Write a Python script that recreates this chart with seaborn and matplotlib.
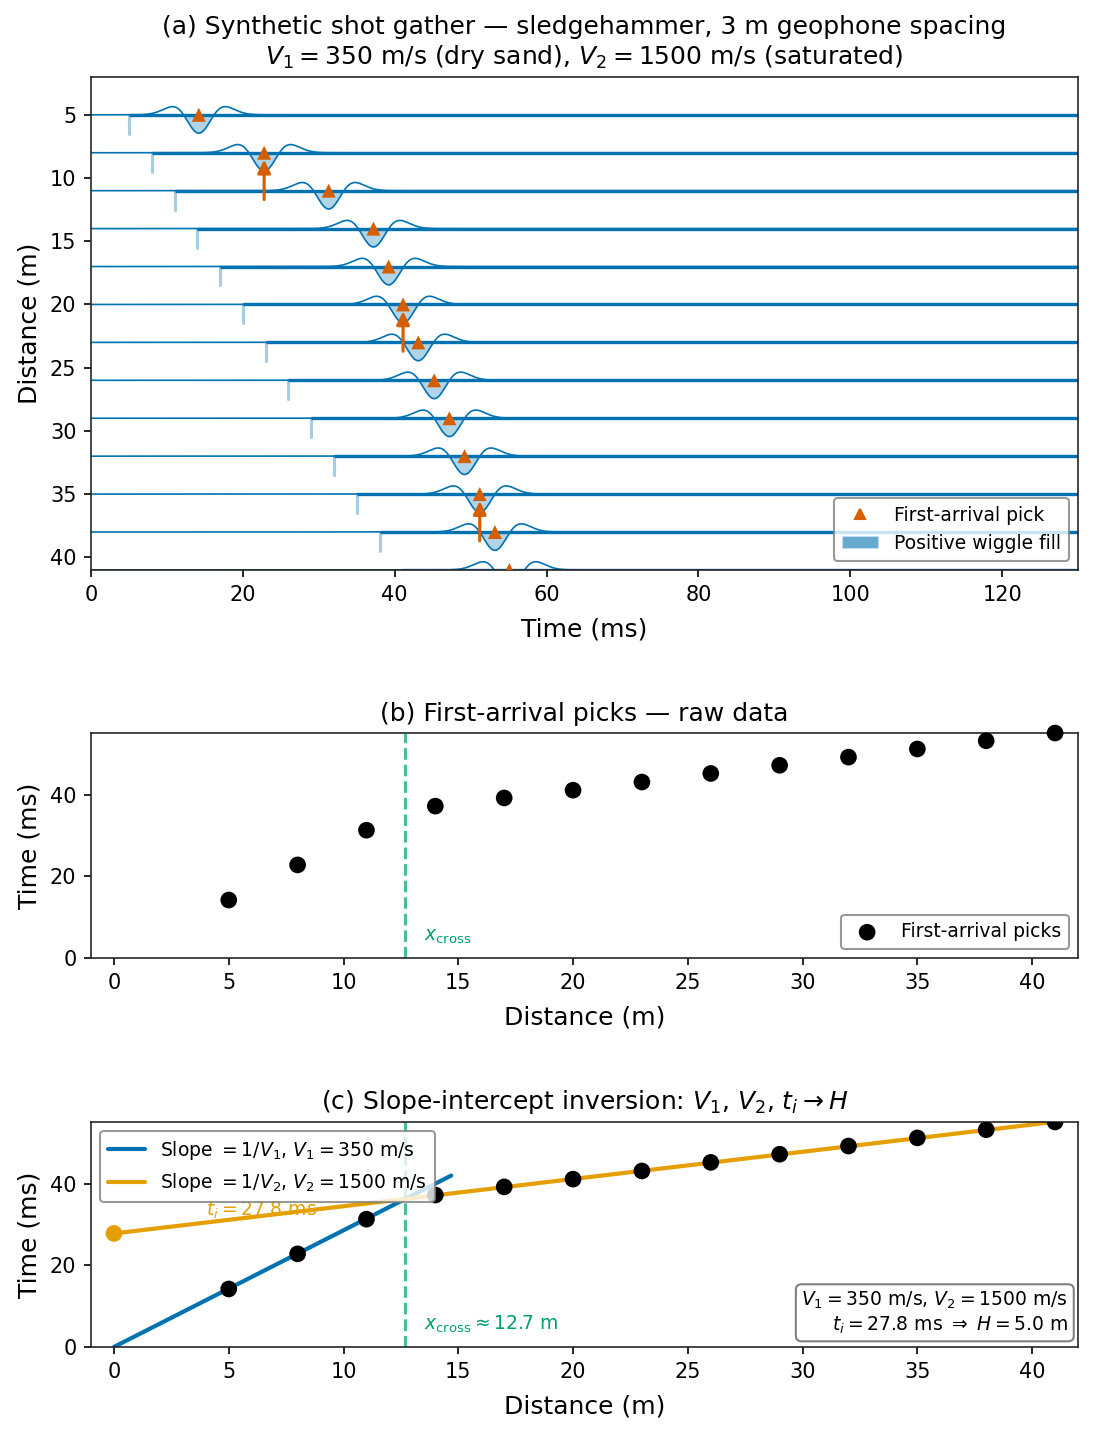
# Refraction shot gather + slope-intercept inversion

import numpy as np
import pandas as pd
import matplotlib
matplotlib.use("Agg")
import matplotlib.pyplot as plt
from matplotlib.patches import Patch
from matplotlib.lines import Line2D
import seaborn as sns
sns.set_style("ticks", {'text.color': 'black', 'axes.labelcolor': 'black',
	'xtick.color': 'black', 'ytick.color': 'black'})

# Geophone offsets (m) and first-arrival picks (ms)
distances = [5, 8, 11, 14, 17, 20, 23, 26, 29, 32, 35, 38, 41]
pick_times = [14.2, 22.8, 31.3, 37.2, 39.2, 41.1, 43.1, 45.2, 47.2, 49.2, 51.2, 53.2, 55.1]
# traces carrying an extra arrowed pick marker
flagged = [8, 20, 35]

# Layer model
v1 = 350.0    # m/s
v2 = 1500.0   # m/s
ti = 27.8     # ms

# Plot parameters
blue = '#0072B2'
orange = '#E69F00'
verm = '#D55E00'
green = '#009E73'
title_size = 12
label_size = 12
peak_freq = 112.0   # Hz, wavelet used to draw the wiggles
wig_scale = 1.45
spike_len = 1.5
t_max = 130

df = pd.DataFrame({'distance': distances, 'time': pick_times})

xcross = ti / (1000.0 / v1 - 1000.0 / v2)
H = (ti / 1000.0) * v1 * v2 / (2 * np.sqrt(v2**2 - v1**2))

fig = plt.figure(figsize=(1094 / 150, 1432 / 150), dpi=150)
ax_a = fig.add_axes([0.0832, 0.6020, 0.9022, 0.3443])
ax_b = fig.add_axes([0.0832, 0.3310, 0.9022, 0.1571])
ax_c = fig.add_axes([0.0832, 0.0594, 0.9022, 0.1571])

# ---------------- (a) shot gather ----------------
t_axis = np.linspace(0, t_max, 2601)
for d, tp in zip(distances, pick_times):
	arg = (np.pi * peak_freq * (t_axis - tp) / 1000.0) ** 2
	w = (1 - 2 * arg) * np.exp(-arg)
	y = d + wig_scale * w
	ax_a.fill_between(t_axis, d, y, where=w > 0, color=blue, alpha=0.3, lw=0)
	ax_a.plot(t_axis, y, color=blue, lw=0.8)
	ax_a.plot([d, t_max], [d, d], color=blue, lw=1.6, solid_capstyle='butt')
	ax_a.plot([d, d], [d, d + spike_len], color=blue, alpha=0.35, lw=1.5)

sns.scatterplot(data=df, x='time', y='distance', marker='^', s=45, color=verm,
	edgecolor='none', ax=ax_a, zorder=5, legend=False)

for d in flagged:
	tp = pick_times[distances.index(d)]
	ax_a.annotate('', xy=(tp, d + 0.55), xytext=(tp, d + 3.7),
		arrowprops=dict(arrowstyle='-|>', color=verm, lw=1.5, mutation_scale=13,
			shrinkA=0, shrinkB=0),
		zorder=6)

ax_a.set_xlim(0, t_max)
ax_a.set_ylim(41, 2)
ax_a.set_yticks([5, 10, 15, 20, 25, 30, 35, 40])
ax_a.set_xlabel('Time (ms)', fontsize=label_size, labelpad=6)
ax_a.set_ylabel('Distance (m)', fontsize=label_size)
ax_a.set_title('(a) Synthetic shot gather — sledgehammer, 3 m geophone spacing\n'
	'$V_1 = 350$ m/s (dry sand), $V_2 = 1500$ m/s (saturated)', fontsize=title_size)
handles = [Line2D([], [], marker='^', ls='none', color=verm, ms=5),
	Patch(facecolor=blue, alpha=0.6)]
ax_a.legend(handles, ['First-arrival pick', 'Positive wiggle fill'], loc='lower right',
	fontsize=9, edgecolor='0.5')

# ---------------- (b) raw picks ----------------
sns.scatterplot(data=df, x='distance', y='time', s=64, color='black', edgecolor='none',
	ax=ax_b, label='First-arrival picks', zorder=5, clip_on=False)
ax_b.axvline(xcross, color=green, ls='--', lw=1.5, alpha=0.7)
ax_b.text(xcross + 0.8, 3, r'$x_{\rm cross}$', color=green, fontsize=9, va='bottom')
ax_b.set_xlim(-1, 42)
ax_b.set_ylim(0, max(pick_times))
ax_b.set_xticks(range(0, 41, 5))
ax_b.set_xlabel('Distance (m)', fontsize=label_size, labelpad=6)
ax_b.set_ylabel('Time (ms)', fontsize=label_size)
ax_b.set_title('(b) First-arrival picks — raw data', fontsize=title_size)
ax_b.legend(loc='lower right', fontsize=9, edgecolor='0.5')

# ---------------- (c) slope-intercept ----------------
x1 = np.array([0, xcross + 2])
x2 = np.array([0, max(distances)])
sns.lineplot(x=x1, y=x1 * 1000.0 / v1, color=blue, lw=2, ax=ax_c,
	label=r'Slope $= 1/V_1$, $V_1 = 350$ m/s')
sns.lineplot(x=x2, y=ti + x2 * 1000.0 / v2, color=orange, lw=2, ax=ax_c,
	label=r'Slope $= 1/V_2$, $V_2 = 1500$ m/s')
sns.scatterplot(data=df, x='distance', y='time', s=64, color='black', edgecolor='none',
	ax=ax_c, zorder=5, legend=False)
sns.scatterplot(x=[0], y=[ti], s=64, color=orange, edgecolor='none', ax=ax_c,
	zorder=5, legend=False)
ax_c.text(4, ti + 3, r'$t_i = %.1f$ ms' % ti, color=orange, fontsize=9, va='bottom')
ax_c.axvline(xcross, color=green, ls='--', lw=1.5, alpha=0.7)
ax_c.text(xcross + 0.8, 3, r'$x_{\rm cross} \approx %.1f$ m' % xcross, color=green,
	fontsize=9, va='bottom')
ax_c.text(0.99, 0.05, '$V_1 = %d$ m/s, $V_2 = %d$ m/s\n$t_i = %.1f$ ms $\\Rightarrow$ $H = %.1f$ m'
	% (v1, v2, ti, H), transform=ax_c.transAxes, ha='right', va='bottom', fontsize=9,
	bbox=dict(boxstyle='round', fc='white', ec='0.5'))
ax_c.set_xlim(-1, 42)
ax_c.set_ylim(0, max(pick_times))
ax_c.set_xticks(range(0, 41, 5))
ax_c.set_xlabel('Distance (m)', fontsize=label_size, labelpad=6)
ax_c.set_ylabel('Time (ms)', fontsize=label_size)
ax_c.set_title(r'(c) Slope-intercept inversion: $V_1$, $V_2$, $t_i \rightarrow H$',
	fontsize=title_size)
ax_c.legend(loc='upper left', fontsize=9, edgecolor='0.5')

fig.savefig('out.png', dpi=150)
